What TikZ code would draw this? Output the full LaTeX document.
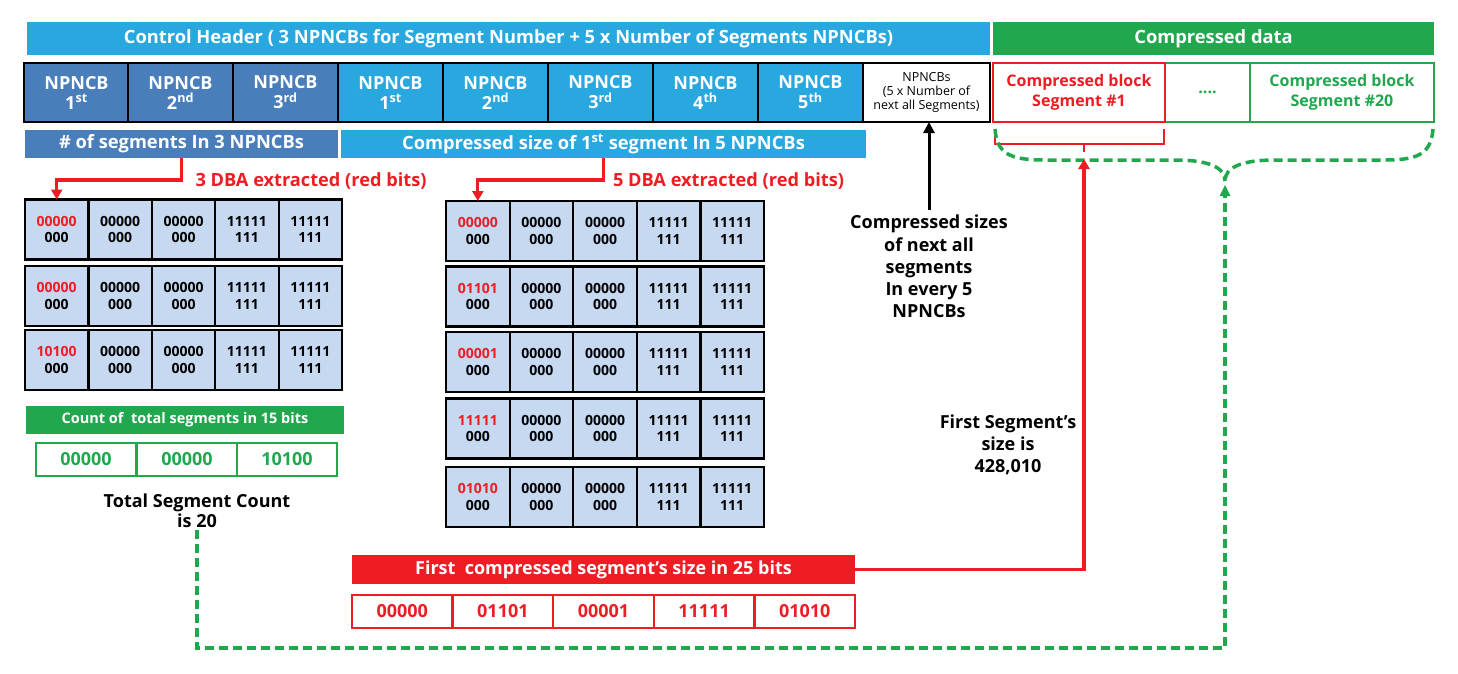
\documentclass[tikz,border=0pt]{standalone}
\usepackage{fontspec}
\setmainfont{Open Sans}
\usetikzlibrary{arrows.meta}

\definecolor{hdrblue}{HTML}{29A8E0}
\definecolor{darkblue}{HTML}{4A7EBB}
\definecolor{cellblue}{HTML}{C6D9F0}
\definecolor{dgreen}{HTML}{21A84F}
\definecolor{dred}{HTML}{EE1D24}

\tikzset{
  band/.style={inner sep=0pt, outer sep=0pt, text=white, font=\bfseries\fontsize{18.3}{21}\selectfont},
  npncb/.style={draw=black, line width=2.5pt, inner sep=0pt, outer sep=0pt, minimum width=105pt, minimum height=59pt, text=white, align=center, font=\bfseries\fontsize{18}{20}\selectfont},
  blk/.style={line width=2.5pt, fill=white, inner sep=0pt, outer sep=0pt, minimum height=59pt, align=center, font=\bfseries\fontsize{16}{20}\selectfont},
  bits/.style={draw=black, line width=2.2pt, fill=cellblue, inner sep=0pt, outer sep=0pt, minimum height=60pt, align=center, font=\bfseries\fontsize{14}{16.5}\selectfont},
  gcell/.style={draw=dgreen, line width=2.5pt, fill=white, inner sep=0pt, minimum width=100pt, minimum height=33pt, text=dgreen, font=\bfseries\fontsize{18}{20}\selectfont},
  rcell/.style={draw=dred, line width=2.5pt, fill=white, inner sep=0pt, minimum width=100.6pt, minimum height=33pt, text=dred, font=\bfseries\fontsize{18}{20}\selectfont},
  redlbl/.style={text=dred, inner sep=0pt, font=\bfseries\fontsize{18.2}{21}\selectfont},
  note/.style={align=center, inner sep=2pt, font=\bfseries\fontsize{18}{22.2}\selectfont},
  redline/.style={draw=dred, line width=3.2pt, -{Triangle[length=10pt,width=11pt]}},
  greenline/.style={draw=dgreen, line width=3.5pt, dash pattern=on 9pt off 5pt}
}

\begin{document}
\begin{tikzpicture}[x=1pt,y=-1pt]
  \useasboundingbox (0,0) rectangle (1458,673);

  \node[band, fill=hdrblue, minimum width=963pt, minimum height=33pt] (ctrlhdr) at (508.5,38.5) {Control Header ( 3 NPNCBs for Segment Number + 5 x Number of Segments NPNCBs)};
  \node[band, fill=dgreen, minimum width=441pt, minimum height=33pt] (datahdr) at (1213.5,38.5) {Compressed data};

  \begin{scope}[every node/.style={npncb}]
    \node[fill=darkblue] (n1) at (76.5,92.5) {NPNCB\\1\textsuperscript{st}};
    \node[fill=darkblue] (n2) at (180.5,92.5) {NPNCB\\2\textsuperscript{nd}};
    \node[fill=darkblue] (n3) at (285.5,92.5) {NPNCB\\3\textsuperscript{rd}};
    \foreach \i/\s in {1/st,2/nd,3/rd,4/th,5/th}
      \node[fill=hdrblue] (s\i) at ({285.5+\i*105},92.5) {NPNCB\\\i\textsuperscript{\s}};
    \node[fill=white, text=black, minimum width=127pt, font=\fontsize{12.5}{14}\selectfont] (wcell) at (926.5,92.5) {NPNCBs\\(5 x Number of\\next all Segments)};
  \end{scope}

  \node[blk, draw=dgreen, text=dgreen, minimum width=85pt] (dots) at (1207.5,92.5) {....};
  \node[blk, draw=dgreen, text=dgreen, minimum width=184pt] (cb20) at (1342,92.5) {Compressed block\\Segment \#20};
  \node[blk, draw=dred, text=dred, minimum width=172pt] (cb1) at (1079,92.5) {Compressed block\\Segment \#1};

  \node[band, fill=darkblue, minimum width=313pt, minimum height=28pt] (segbar) at (181.5,144) {\# of segments In 3 NPNCBs};
  \node[band, fill=hdrblue, minimum width=525pt, minimum height=28pt] (sizebar) at (603.5,144) {Compressed size of 1\textsuperscript{st} segment In 5 NPNCBs};

  \node[redlbl] (dba3) at (311,181) {3 DBA extracted (red bits)};
  \node[redlbl] (dba5) at (728.5,181) {5 DBA extracted (red bits)};

  \begin{scope}[every node/.style={bits, minimum width=63.4pt}]
    \foreach \r/\y/\v in {1/229.5/00000,2/296/00000,3/360/10100} {
      \node (l\r1) at (56.7,\y) {\textcolor{dred}{\v}\\000};
      \foreach \c/\ua/\ub in {2/00000/000,3/00000/000,4/11111/111,5/11111/111}
        \node (l\r\c) at ({25+(\c-0.5)*63.4},\y) {\ua\\\ub};
    }
  \end{scope}

  \begin{scope}[every node/.style={bits, minimum width=63.6pt}]
    \foreach \r/\y/\v in {1/231/00000,2/296.5/01101,3/362/00001,4/428.5/11111,5/497/01010} {
      \node (m\r1) at (477.8,\y) {\textcolor{dred}{\v}\\000};
      \foreach \c/\ua/\ub in {2/00000/000,3/00000/000,4/11111/111,5/11111/111}
        \node (m\r\c) at ({446+(\c-0.5)*63.6},\y) {\ua\\\ub};
    }
  \end{scope}

  \node[band, fill=dgreen, minimum width=318pt, minimum height=28pt, font=\bfseries\fontsize{14.5}{17}\selectfont] (countbar) at (185,420) {Count of~ total segments in 15 bits};
  \foreach \c/\x/\v in {1/86/00000,2/187/00000,3/287/10100}
    \node[gcell] (g\c) at (\x,459.5) {\v};
  \node[note, font=\bfseries\fontsize{18}{20}\selectfont] (total) at (197,511) {Total Segment Count\\is 20};

  \node[band, fill=dred, minimum width=503pt, minimum height=29pt, font=\bfseries\fontsize{18}{20}\selectfont] (firstbar) at (603.5,569.5) {First~ compressed segment’s size in 25 bits};
  \foreach \c/\v in {1/00000,2/01101,3/00001,4/11111,5/01010}
    \node[rcell] (r\c) at ({352+(\c-0.5)*100.6},611.5) {\v};

  \node[note, anchor=north, inner sep=5pt] (nextsizes) at (929,210) {Compressed sizes\\of next all\\segments\\In every 5\\NPNCBs};
  \node[note] (firstsize) at (1008,445) {First Segment’s\\size is\\428,010};

  \coordinate (redtip) at (1084,159);
  \coordinate (greentip) at (1225,185);
  \coordinate (greenturn) at (1225,648);

  \draw[redline] (segbar.south) -- ++(0,22) -| (l11.north);
  \draw[redline] (sizebar.south) -- ++(0,22) -| (m11.north);
  \draw[line width=3pt, -{Triangle[length=11pt,width=11pt]}] (nextsizes.north) -- (nextsizes.north |- wcell.south);

  \draw[dred, line width=2.5pt] (995,129) -- (995,144) -- (1164,144) -- (1164,129);
  \draw[dred, line width=2.5pt] (1084,144) -- (1084,152);
  \draw[greenline] (995,129) .. controls (997,154) and (1010,160) .. (1045,160) -- (1175,160) .. controls (1210,160) and (1225,168) .. (1225,181);
  \draw[greenline] (1433,129) .. controls (1431,154) and (1418,160) .. (1385,160) -- (1275,160) .. controls (1240,160) and (1225,168) .. (1225,181);

  \draw[redline] (firstbar.east) -| (redtip);
  \draw[greenline] (total.south) |- (greenturn) -- (greentip);
  \fill[dgreen] (greentip) -- ++(-5.5,11) -- ++(11,0) -- cycle;
\end{tikzpicture}
\end{document}
